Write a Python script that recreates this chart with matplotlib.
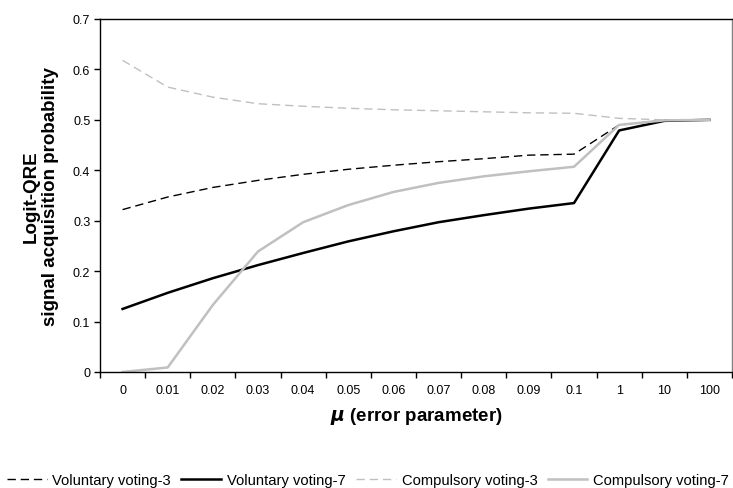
import matplotlib
matplotlib.use("Agg")
import matplotlib.pyplot as plt
import numpy as np

plt.rcParams['font.family'] = ['Liberation Sans', 'DejaVu Sans']

categories = ["0", "0.01", "0.02", "0.03", "0.04", "0.05", "0.06", "0.07",
              "0.08", "0.09", "0.1", "1", "10", "100"]
voluntary_3 = [0.322, 0.347, 0.366, 0.380, 0.392, 0.402, 0.410, 0.417,
               0.423, 0.430, 0.432, 0.490, 0.499, 0.500]
voluntary_7 = [0.125, 0.157, 0.186, 0.212, 0.236, 0.259, 0.279, 0.297,
               0.311, 0.324, 0.335, 0.479, 0.498, 0.500]
compulsory_3 = [0.618, 0.565, 0.545, 0.532, 0.527, 0.523, 0.520, 0.518,
                0.516, 0.514, 0.513, 0.503, 0.500, 0.500]
compulsory_7 = [0.000, 0.009, 0.133, 0.239, 0.297, 0.331, 0.357, 0.375,
                0.388, 0.398, 0.407, 0.490, 0.499, 0.500]
y_ticks = [0, 0.1, 0.2, 0.3, 0.4, 0.5, 0.6, 0.7]
y_tick_labels = ["0", "0.1", "0.2", "0.3", "0.4", "0.5", "0.6", "0.7"]

fig = plt.figure(figsize=(7.33, 4.89), dpi=100)
ax = fig.add_axes([100/733, 1-373/489, 632/733, 353/489])

x = np.arange(len(categories))
dash = (0, (6, 3.5))
l1, = ax.plot(x, voluntary_3, color='black', lw=1.0, ls=dash, label='Voluntary voting-3')
l2, = ax.plot(x, voluntary_7, color='black', lw=1.8, label='Voluntary voting-7')
l3, = ax.plot(x, compulsory_3, color='#c0c0c0', lw=1.0, ls=dash, label='Compulsory voting-3')
l4, = ax.plot(x, compulsory_7, color='#c0c0c0', lw=1.8, label='Compulsory voting-7')

ax.set_xlim(-0.5, len(categories) - 0.5)
ax.set_ylim(0, 0.7)
ax.set_xticks(x)
ax.set_xticklabels(categories, fontsize=9)
ax.set_xticks(np.arange(-0.5, len(categories), 1.0), minor=True)
ax.tick_params(axis='x', which='major', length=0, pad=9)
ax.tick_params(axis='x', which='minor', length=4, direction='out', width=1)
ax.set_yticks(y_ticks)
ax.set_yticklabels(y_tick_labels, fontsize=9)
ax.tick_params(axis='y', length=4, direction='out', width=1, pad=3)

for s in ['left', 'bottom', 'top']:
    ax.spines[s].set_color('black')
    ax.spines[s].set_linewidth(1.0)
ax.spines['right'].set_color('#808080')
ax.spines['right'].set_linewidth(1.0)

ax.set_ylabel("Logit-QRE\nsignal acquisition probability", fontsize=13.5,
              fontweight='bold', labelpad=10, linespacing=1.2)
ax.set_xlabel(r"$\mathbfit{\mu}$ (error parameter)", fontsize=13.5,
              fontweight='bold', labelpad=6)

fig.legend(handles=[l1, l2, l3, l4], loc='center', bbox_to_anchor=(368/733, 1-481/489),
           ncol=4, frameon=False, prop={'family': 'Liberation Sans', 'size': 10.6},
           handlelength=2.7, handletextpad=0.4, columnspacing=0.7,
           borderpad=0, borderaxespad=0)

fig.savefig("out.png", dpi=100)
